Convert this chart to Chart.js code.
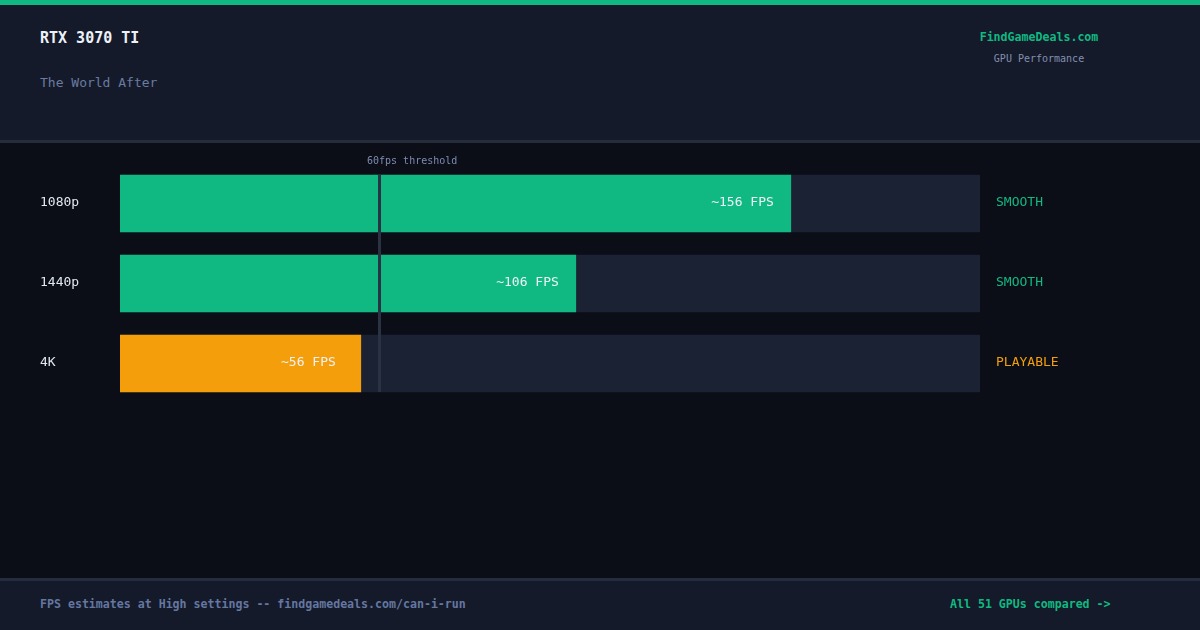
<!DOCTYPE html>
<html>
<head>
<meta charset="utf-8">
<script src="https://cdn.jsdelivr.net/npm/chart.js@4.4.1/dist/chart.umd.min.js"></script>
<style>
  html, body { margin: 0; padding: 0; }
  body { width: 1200px; height: 630px; background: #0b0e17; position: relative; overflow: hidden; font-family: "DejaVu Sans Mono", "Liberation Mono", monospace; }
  .topbar { position: absolute; left: 0; top: 0; width: 1200px; height: 5px; background: #10b981; }
  .header { position: absolute; left: 0; top: 5px; width: 1200px; height: 135px; background: #141a2a; border-bottom: 3px solid #252c3c; }
  .footer { position: absolute; left: 0; top: 578px; width: 1200px; height: 49px; background: #141a2a; border-top: 3px solid #252c3c; }
  .t { position: absolute; white-space: nowrap; line-height: 1; }
  #chartWrap { position: absolute; left: 0; top: 143px; width: 1200px; height: 435px; }
</style>
</head>
<body>
<div class="topbar"></div>
<div class="header"></div>
<div class="footer"></div>
<div class="t" id="title" style="left:40px; top:31px; font-size:15px; font-weight:bold; color:#eef2f8;"></div>
<div class="t" id="subtitle" style="left:40px; top:76px; font-size:13px; color:#6b7aa1;"></div>
<div class="t" id="brand" style="left:939px; width:200px; text-align:center; top:32px; font-size:11.6px; font-weight:bold; color:#10b981;"></div>
<div class="t" id="brandSub" style="left:939px; width:200px; text-align:center; top:54px; font-size:10px; color:#8390b0;"></div>
<div class="t" id="footL" style="left:40px; top:599px; font-size:11.6px; font-weight:bold; color:#6577a0;"></div>
<div class="t" id="footR" style="left:950px; top:599px; font-size:11.6px; font-weight:bold; color:#10b981;"></div>
<div id="chartWrap"><canvas id="c" width="1200" height="435"></canvas></div>
<script>
// ---- data ----
const title = "RTX 3070 TI";
const subtitle = "The World After";
const brand = "FindGameDeals.com";
const brandSub = "GPU Performance";
const footerLeft = "FPS estimates at High settings -- findgamedeals.com/can-i-run";
const footerRight = "All 51 GPUs compared ->";
const resolutions = ["1080p", "1440p", "4K"];
const fpsValues = [156, 106, 56];
const statusLabels = ["SMOOTH", "SMOOTH", "PLAYABLE"];
const thresholdFps = 60;
const thresholdLabel = "60fps threshold";
const axisMax = 200;

document.getElementById('title').textContent = title;
document.getElementById('subtitle').textContent = subtitle;
document.getElementById('brand').textContent = brand;
document.getElementById('brandSub').textContent = brandSub;
document.getElementById('footL').textContent = footerLeft;
document.getElementById('footR').textContent = footerRight;

const GREEN = '#10b981', ORANGE = '#f59e0b';
const statusColor = s => s === 'PLAYABLE' ? ORANGE : GREEN;
const barColors = fpsValues.map(v => v >= thresholdFps ? GREEN : ORANGE);
const FONT = '"DejaVu Sans Mono", "Liberation Mono", monospace';

const overlay = {
  id: 'overlay',
  afterDatasetsDraw(chart) {
    const ctx = chart.ctx;
    const xs = chart.scales.x, ys = chart.scales.y;
    const meta = chart.getDatasetMeta(0);
    ctx.save();
    // threshold line
    const first = meta.data[0], last = meta.data[meta.data.length - 1];
    const top = first.y - first.height / 2;
    const bottom = last.y + last.height / 2;
    const tx = Math.round(xs.getPixelForValue(thresholdFps));
    ctx.fillStyle = '#2b3243';
    ctx.fillRect(tx, top, 3, bottom - top);
    // threshold label
    ctx.font = '10px ' + FONT;
    ctx.fillStyle = '#7d8bb0';
    ctx.textAlign = 'left';
    ctx.textBaseline = 'alphabetic';
    ctx.fillText(thresholdLabel, tx - 11, top - 11);
    // row texts
    resolutions.forEach((r, i) => {
      const bar = meta.data[i];
      const y = ys.getPixelForValue(i) + 2;
      ctx.font = '13px ' + FONT;
      ctx.textAlign = 'left';
      ctx.fillStyle = '#e2e8f0';
      ctx.fillText(r, 40, y);
      ctx.fillStyle = statusColor(statusLabels[i]);
      ctx.fillText(statusLabels[i], xs.right + 16, y);
      ctx.textAlign = 'right';
      ctx.fillStyle = '#eef2f7';
      const pad = fpsValues[i] >= thresholdFps ? 17 : 25;
      ctx.fillText('~' + fpsValues[i] + ' FPS', bar.x - pad, y);
    });
    ctx.restore();
  }
};

new Chart(document.getElementById('c'), {
  type: 'bar',
  data: {
    labels: resolutions,
    datasets: [
      { data: fpsValues, backgroundColor: barColors, barThickness: 57, grouped: false, borderWidth: 0 },
      { data: resolutions.map(() => axisMax), backgroundColor: '#1b2234', barThickness: 57, grouped: false, borderWidth: 0 }
    ]
  },
  options: {
    indexAxis: 'y',
    responsive: false,
    devicePixelRatio: 1,
    animation: false,
    layout: { padding: { left: 120, right: 220, top: 20.5, bottom: 174.5 } },
    scales: {
      x: { display: false, min: 0, max: axisMax },
      y: { display: false, offset: true }
    },
    plugins: { legend: { display: false }, tooltip: { enabled: false } }
  },
  plugins: [overlay]
});
</script>
</body>
</html>
